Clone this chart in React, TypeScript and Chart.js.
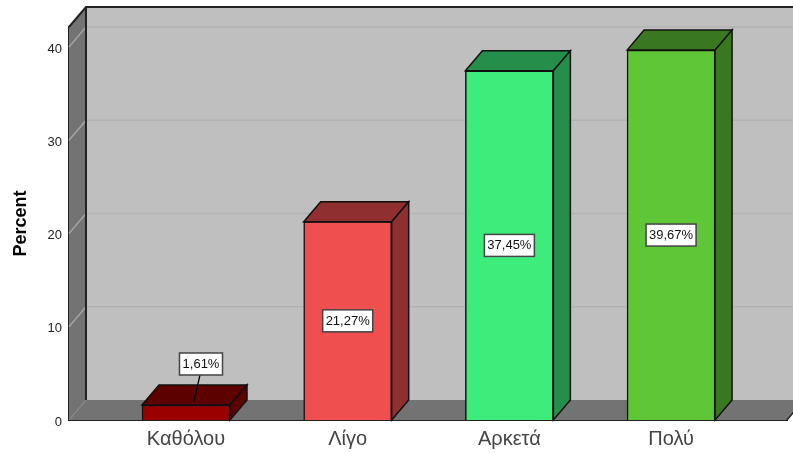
import React, { useEffect, useRef } from "react";
import { Chart, registerables } from "chart.js";

Chart.register(...registerables);

const categories = ["Καθόλου", "Λίγο", "Αρκετά", "Πολύ"];
const percentValues = [1.61, 21.27, 37.45, 39.67];
const frontColors = ["#990000", "#ef4f4f", "#3eec7c", "#5fc637"];
const sideColors = ["#5c0000", "#8f2f2f", "#258e4a", "#397721"];
const yTickValues = [0, 10, 20, 30, 40];

const DX = 17;
const DY = 20;
const FRAME = "#222222";

function poly(ctx: CanvasRenderingContext2D, pts: number[][], fill?: string, stroke?: string, lw = 1) {
  ctx.beginPath();
  pts.forEach((p, i) => (i ? ctx.lineTo(p[0], p[1]) : ctx.moveTo(p[0], p[1])));
  if (fill) {
    ctx.closePath();
    ctx.fillStyle = fill;
    ctx.fill();
  }
  if (stroke) {
    ctx.strokeStyle = stroke;
    ctx.lineWidth = lw;
    ctx.stroke();
  }
}

const wallsPlugin = {
  id: "walls",
  beforeDatasetsDraw(chart: any) {
    const { ctx, chartArea: a, scales } = chart;
    const { left: l, right: r, top: t, bottom: b } = a;
    ctx.save();
    ctx.fillStyle = "#bfbfbf";
    ctx.fillRect(l + DX, t - DY, r - l, b - t);
    poly(ctx, [[l, t], [l + DX, t - DY], [l + DX, b - DY], [l, b]], "#737373");
    poly(ctx, [[l, b], [l + DX, b - DY], [r + DX, b - DY], [r, b]], "#737373");
    yTickValues.forEach((v) => {
      const y = scales.y.getPixelForValue(v);
      if (v > 0) {
        poly(ctx, [[l + DX, y - DY], [r + DX, y - DY]], undefined, "#b2b2b2", 1.5);
        poly(ctx, [[l, y], [l + DX, y - DY]], undefined, "#a3a3a3", 1.5);
      } else {
        poly(ctx, [[l, y], [l + DX, y - DY]], undefined, "#8c8c8c", 1);
      }
    });
    poly(ctx, [[l, t], [l + DX, t - DY], [r + DX, t - DY]], undefined, FRAME, 2);
    poly(ctx, [[l + DX, t - DY], [l + DX, b - DY]], undefined, FRAME, 2);
    poly(ctx, [[r, b], [r + DX, b - DY]], undefined, FRAME, 1.5);
    ctx.restore();
  },
  afterDatasetsDraw(chart: any) {
    const { ctx } = chart;
    const bars = chart.getDatasetMeta(0).data;
    ctx.save();
    bars.forEach((el: any, i: number) => {
      const w = el.width / 2;
      const x0 = el.x - w;
      const x1 = el.x + w;
      const yt = el.y;
      const yb = el.base;
      poly(ctx, [[x0, yt], [x0 + DX, yt - DY], [x1 + DX, yt - DY], [x1, yt]], sideColors[i], "#111111", 1.5);
      poly(ctx, [[x1, yt], [x1 + DX, yt - DY], [x1 + DX, yb - DY], [x1, yb]], sideColors[i], "#111111", 1.5);
    });
    ctx.font = '13px "Liberation Sans"';
    ctx.textAlign = "center";
    ctx.textBaseline = "middle";
    bars.forEach((el: any, i: number) => {
      const text = percentValues[i].toFixed(2).replace(".", ",") + "%";
      const small = el.base - el.y < 40;
      const cx = small ? el.x + 15 : el.x;
      const cy = small ? el.y - 41 : (el.y + el.base) / 2;
      const bw = small ? 43 : 50;
      const bh = 22;
      if (small) {
        poly(ctx, [[cx - 1, cy + bh / 2], [el.x + 8, el.y - 4]], undefined, "#000000", 1.25);
      }
      ctx.fillStyle = "#ffffff";
      ctx.fillRect(cx - bw / 2, cy - bh / 2, bw, bh);
      ctx.strokeStyle = "#444444";
      ctx.lineWidth = 1.5;
      ctx.strokeRect(cx - bw / 2, cy - bh / 2, bw, bh);
      ctx.fillStyle = "#111111";
      ctx.fillText(text, cx, cy + 0.5);
    });
    ctx.restore();
  },
};

export default function App() {
  const ref = useRef<HTMLCanvasElement>(null);
  useEffect(() => {
    document.body.style.margin = "0";
    const chart = new Chart(ref.current as HTMLCanvasElement, {
      type: "bar",
      data: {
        datasets: [
          {
            data: percentValues.map((v, i) => ({ x: i, y: v })),
            backgroundColor: frontColors,
            borderColor: "#111111",
            borderWidth: 1.5,
            barThickness: 88,
          },
        ],
      },
      options: {
        animation: false,
        responsive: false,
        layout: { padding: { top: 27, right: 6, left: 0, bottom: 0 } },
        plugins: { legend: { display: false }, tooltip: { enabled: false } },
        scales: {
          x: {
            type: "linear",
            offset: false,
            min: -0.7236,
            max: 3.717,
            grid: { display: false, offset: false, drawTicks: false },
            border: { display: true, color: FRAME, width: 2 },
            afterBuildTicks: (s: any) => {
              s.ticks = categories.map((_, i) => ({ value: i }));
            },
            afterFit: (s: any) => {
              s.height = 33;
            },
            ticks: {
              autoSkip: false,
              maxRotation: 0,
              padding: 7,
              color: "#444444",
              font: { family: '"Liberation Sans"', size: 20 },
              callback: (v: any) => categories[v as number] ?? "",
            },
          },
          y: {
            min: 0,
            max: 42.15,
            grid: { display: false, drawTicks: false },
            border: { display: true, color: FRAME, width: 2.5 },
            afterBuildTicks: (s: any) => {
              s.ticks = yTickValues.map((value) => ({ value }));
            },
            afterFit: (s: any) => {
              s.width = 69;
            },
            title: {
              display: true,
              text: "Percent",
              color: "#000000",
              padding: { top: 10, bottom: 0 },
              font: { family: '"Liberation Sans"', size: 18, weight: "bold" },
            },
            ticks: {
              padding: 7,
              labelOffset: 2,
              color: "#222222",
              font: { family: '"Liberation Sans"', size: 13 },
            },
          },
        },
      } as any,
      plugins: [wallsPlugin],
    });
    return () => chart.destroy();
  }, []);
  return <canvas ref={ref} width={793} height={453} style={{ display: "block" }} />;
}
